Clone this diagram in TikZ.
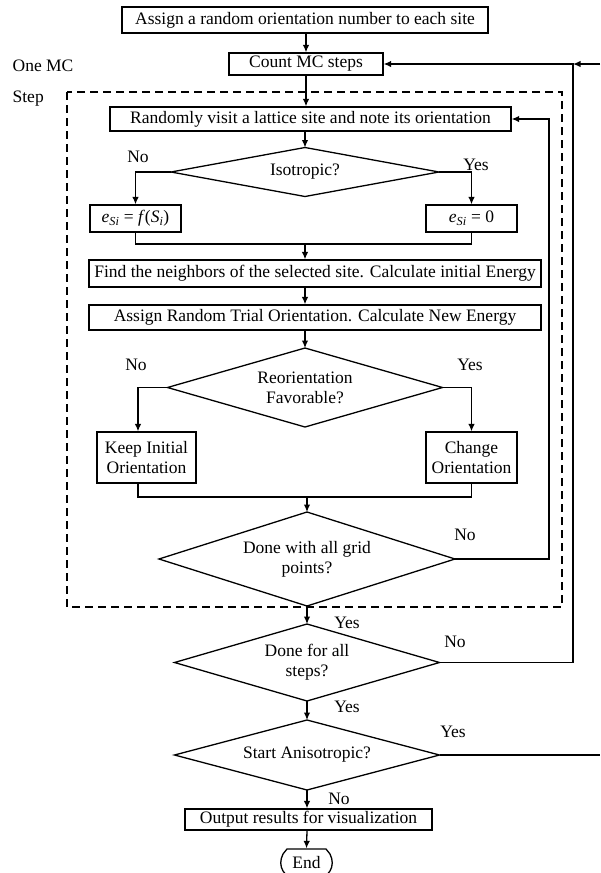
\documentclass[tikz,border=0pt]{standalone}
\usepackage{fontspec}
\setmainfont{Liberation Serif}
\usetikzlibrary{arrows.meta}
\newcommand\dmdnode[6]{%
  \node[align=center, inner sep=0pt] (#1) at (#2,#3) {#6};
  \coordinate (#1-n) at (#2,#3-#5);
  \coordinate (#1-s) at (#2,#3+#5);
  \coordinate (#1-w) at (#2-#4,#3);
  \coordinate (#1-e) at (#2+#4,#3);
  \draw (#1-n) -- (#1-e) -- (#1-s) -- (#1-w) -- cycle;}
\begin{document}
\begin{tikzpicture}[x=1pt,y=-1pt, line width=1.3pt,
  font=\fontsize{17.5}{20}\selectfont,
  box/.style={draw, rectangle, inner sep=0pt, align=center},
  lbl/.style={inner sep=0pt},
  arr/.style={-{Latex[length=7.5pt,width=6.5pt]}}]
\useasboundingbox (0,0) rectangle (600,873);
% boxes
\node[box, minimum width=366pt, minimum height=26pt] (b1) at (305,20) {Assign a random orientation number to each site};
\node[box, minimum width=154pt, minimum height=22pt] (count) at (306,64) {Count MC steps};
\node[box, minimum width=401pt, minimum height=24pt] (rand) at (310.5,119) {Randomly visit a lattice site and note its orientation};
\node[box, minimum width=91pt, minimum height=27pt] (eL) at (135.5,218.5) {\textit{e}\textsubscript{\textit{Si}} = \textit{f}(\textit{S}\textsubscript{\textit{i}})};
\node[box, minimum width=91pt, minimum height=27pt] (eR) at (471.5,218.5) {\textit{e}\textsubscript{\textit{Si}} = 0};
\node[box, minimum width=452pt, minimum height=27pt] (find) at (315,273.5) {Find the neighbors of the selected site. Calculate initial Energy};
\node[box, minimum width=452pt, minimum height=25pt] (trial) at (315,317.5) {Assign Random Trial Orientation. Calculate New Energy};
\node[box, minimum width=99pt, minimum height=51pt] (keep) at (146.5,457.5) {Keep Initial\\Orientation};
\node[box, minimum width=91pt, minimum height=51pt] (change) at (471.5,457.5) {Change\\Orientation};
\node[box, minimum width=247pt, minimum height=21pt] (out) at (308.5,819.5) {Output results for visualization};
\node[inner sep=0pt, minimum width=51pt, minimum height=27pt] (end) at (306.5,862.5) {End};
\draw (287,849) -- (326,849) -- (330,854) .. controls (333,860) and (333,866) .. (330,871) -- (326,876) -- (287,876) -- (283,871) .. controls (280,866) and (280,860) .. (283,854) -- cycle;
% decisions
\dmdnode{iso}{305}{172}{134}{24.5}{Isotropic?}
\dmdnode{reo}{305}{387.5}{137.5}{39.5}{Reorientation\\Favorable?}
\dmdnode{grid}{307}{559}{148}{47}{Done with all grid\\points?}
\dmdnode{steps}{307}{662.5}{132.5}{38.5}{Done for all\\steps?}
\dmdnode{aniso}{307}{755}{132.5}{35}{Start Anisotropic?}
% dashed frame and its label
\draw[dash pattern=on 8pt off 5pt] (67,92) rectangle (562,607);
\node[lbl, anchor=west] (onemc) at (12,66) {One MC};
\node[lbl, anchor=west] (steplbl) at (12,99) {Step};
% branch labels
\node[lbl] (isono) at (138,157) {No};
\node[lbl] (isoyes) at (476,165) {Yes};
\node[lbl] (reono) at (136,365) {No};
\node[lbl] (reoyes) at (470,365) {Yes};
\node[lbl] (gridno) at (465,535) {No};
\node[lbl] (gridyes) at (347,623) {Yes};
\node[lbl] (stepsno) at (455,642) {No};
\node[lbl] (stepsyes) at (347,707) {Yes};
\node[lbl] (anisoyes) at (453,732) {Yes};
\node[lbl] (anisono) at (339,799) {No};
% helper coordinates
\coordinate (m1) at (305,244);
\coordinate (m2) at (307,497);
\coordinate (kl) at (138,0);
\coordinate (r1) at (549,0);
\coordinate (r2) at (573,0);
\coordinate (eT) at (600,64);
\coordinate (eB) at (600,755);
% connectors
\draw[arr] (b1.south -| count.south) -- (count.north);
\draw[arr] (count.south) -- (count.south |- rand.north);
\draw[arr] (iso-n |- rand.south) -- (iso-n);
\draw[arr] (iso-w) -| (eL.north);
\draw[arr] (iso-e) -| (eR.north);
\draw (eL.south) |- (m1) -| (eR.south);
\draw[arr] (m1) -- (m1 |- find.north);
\draw[arr] (reo-n |- find.south) -- (reo-n |- trial.north);
\draw[arr] (reo-n |- trial.south) -- (reo-n);
\draw[arr] (reo-w) -| (kl |- keep.north);
\draw[arr] (reo-e) -| (change.north);
\draw (kl |- keep.south) |- (m2) -| (change.south);
\draw[arr] (m2) -- (grid-n);
\draw[arr] (grid-e) -| (r1 |- rand.east) -- (rand.east);
\draw[arr] (grid-s) -- (steps-n);
\draw[arr] (steps-e) -| (r2 |- count.east) -- (count.east);
\draw[arr] (eT) -- (r2 |- eT);
\draw[arr] (steps-s) -- (aniso-n);
\draw (aniso-e) -- (eB);
\draw[arr] (aniso-s) -- (aniso-s |- out.north);
\draw[arr] (aniso-s |- out.south) -- (end.north);
\end{tikzpicture}
\end{document}
